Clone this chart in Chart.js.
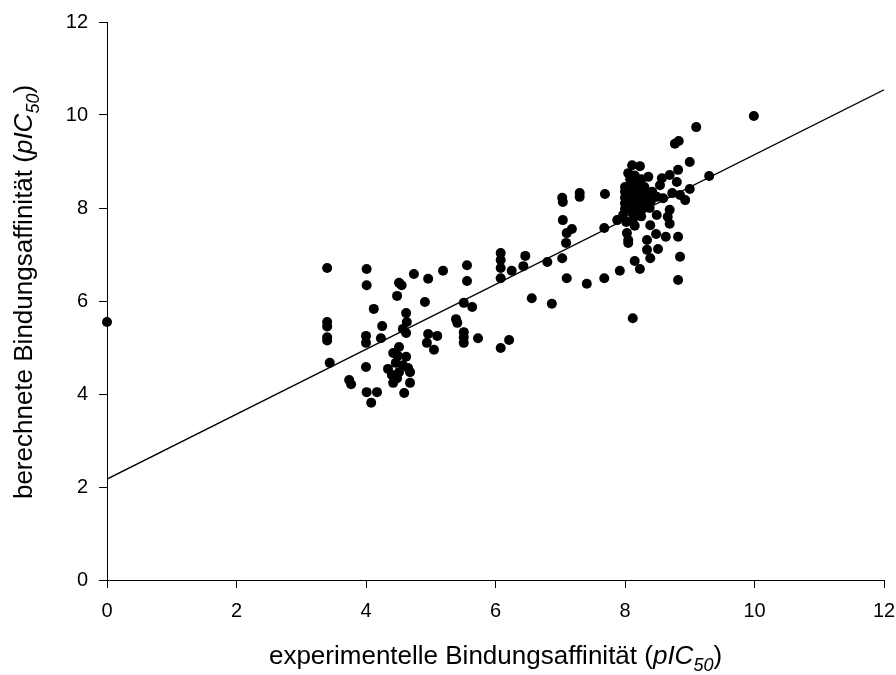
<!DOCTYPE html>
<html>
<head>
<meta charset="utf-8">
<script src="https://cdn.jsdelivr.net/npm/chart.js@4.4.1/dist/chart.umd.min.js"></script>
<style>
html,body{margin:0;padding:0;background:#fff;}
#wrap{width:896px;height:675px;}
</style>
</head>
<body>
<div id="wrap"><canvas id="c" width="896" height="675"></canvas></div>
<script>
const xTicks = [0, 2, 4, 6, 8, 10, 12];
const yTicks = [0, 2, 4, 6, 8, 10, 12];
const xTitleParts = [["experimentelle Bindungsaffinität (", 0], ["pIC", 1], ["50", 2], [")", 0]];
const yTitleParts = [["berechnete Bindungsaffinität (", 0], ["pIC", 1], ["50", 2], [")", 0]];

const expX = [
 0.00, 3.40, 3.40, 3.40, 3.40, 3.40, 3.44, 3.74, 3.77, 4.01,
 4.01, 4.12, 4.00, 4.00, 4.25, 4.23, 4.00, 4.01, 4.17, 4.08,
 4.51, 4.55, 4.48, 4.74, 4.96, 5.19, 5.56, 5.56, 4.91, 4.62,
 4.63, 4.57, 4.62, 4.96, 5.10, 4.94, 5.05, 5.39, 5.41, 5.51,
 5.64, 5.51, 5.51, 5.51, 5.73, 4.51, 4.42, 4.49, 4.62, 4.46,
 4.57, 4.65, 4.34, 4.51, 4.40, 4.48, 4.68, 4.42, 4.68, 4.59,
 6.08, 6.08, 6.08, 6.08, 6.25, 6.46, 6.43, 6.80, 7.03, 7.09,
 7.10, 7.41, 7.68, 7.92, 6.56, 6.87, 8.12, 6.08, 6.21, 8.05,
 8.15, 8.23, 7.68, 8.39, 8.34, 8.34, 8.51, 8.48, 8.63, 8.82,
 8.85, 8.82, 8.69, 8.39, 8.03, 9.10, 8.77, 8.83, 9.00, 9.30,
 7.69, 8.82, 8.11, 8.23, 8.36, 8.57, 8.69, 8.54, 8.80, 9.00,
 8.93, 8.73, 8.85, 8.49, 8.59, 8.69, 8.66, 8.49, 9.99, 7.03,
 7.04, 7.30, 7.30, 7.04, 7.18, 7.10, 7.88, 8.05, 8.00, 8.00,
 8.00, 8.00, 8.00, 7.97, 8.02, 8.08, 8.08, 8.10, 8.08, 8.10,
 8.08, 8.12, 8.12, 8.15, 8.18, 8.20, 8.18, 8.22, 8.20, 8.22,
 8.25, 8.30, 8.28, 8.32, 8.30, 8.27, 8.25, 8.38, 8.40, 8.42,
 8.15, 8.05
];
const calcY = [
 5.55, 6.71, 5.55, 5.45, 5.22, 5.15, 4.67, 4.30, 4.21, 6.69,
 6.34, 5.83, 5.25, 5.10, 5.46, 5.20, 4.58, 4.04, 4.04, 3.81,
 6.39, 6.34, 6.11, 6.58, 6.48, 6.65, 6.77, 6.43, 5.98, 5.74,
 5.55, 5.40, 5.31, 5.29, 5.25, 5.10, 4.95, 5.61, 5.53, 5.96,
 5.87, 5.33, 5.22, 5.10, 5.20, 5.01, 4.88, 4.82, 4.80, 4.67,
 4.62, 4.56, 4.54, 4.47, 4.41, 4.34, 4.47, 4.24, 4.24, 4.02,
 7.03, 6.88, 6.71, 6.49, 6.65, 6.97, 6.75, 6.84, 6.92, 7.25,
 6.49, 6.37, 6.49, 6.65, 6.06, 5.94, 5.63, 4.99, 5.16, 7.25,
 6.86, 6.69, 7.57, 6.92, 7.10, 7.31, 7.12, 7.44, 7.38, 7.38,
 6.95, 6.45, 7.66, 7.63, 7.46, 9.74, 9.38, 9.44, 8.99, 8.69,
 8.30, 8.82, 8.92, 8.90, 8.67, 8.64, 8.71, 8.49, 8.56, 8.41,
 8.17, 8.32, 8.28, 8.24, 8.21, 7.96, 7.81, 7.85, 9.98, 8.22,
 8.13, 8.32, 8.24, 7.74, 7.55, 7.46, 7.74, 7.31, 8.45, 8.35,
 8.22, 8.10, 7.98, 7.85, 7.70, 8.62, 8.50, 8.38, 8.25, 8.12,
 8.00, 7.88, 7.75, 7.62, 8.55, 8.42, 8.30, 8.18, 8.05, 7.92,
 8.62, 8.45, 8.35, 8.22, 8.10, 7.98, 7.82, 8.00, 8.15, 8.35,
 8.70, 8.75
];
const fitX = [0, 12];
const fitY = [2.17, 10.54];

const points = expX.map((x, i) => ({x: x, y: calcY[i]}));
const fitLine = fitX.map((x, i) => ({x: x, y: fitY[i]}));

const FONT = "'Liberation Sans', Arial, sans-serif";

function drawRich(ctx, parts, size) {
  const segs = parts.map(([t, s]) => {
    const fs = s === 2 ? Math.round(size * 0.68) : size;
    const f = (s ? 'italic ' : '') + fs + 'px ' + FONT;
    ctx.font = f;
    return {t, s, f, w: ctx.measureText(t).width};
  });
  const total = segs.reduce((a, b) => a + b.w, 0);
  let x = -total / 2;
  segs.forEach(sg => {
    ctx.font = sg.f;
    ctx.fillText(sg.t, x, sg.s === 2 ? size * 0.25 : 0);
    x += sg.w;
  });
}

const titlePlugin = {
  id: 'richTitles',
  afterDraw(chart) {
    const ctx = chart.ctx;
    const a = chart.chartArea;
    ctx.save();
    ctx.fillStyle = '#000';
    ctx.textBaseline = 'alphabetic';
    ctx.textAlign = 'left';
    ctx.translate((a.left + a.right) / 2, 664);
    drawRich(ctx, xTitleParts, 26);
    ctx.restore();
    ctx.save();
    ctx.fillStyle = '#000';
    ctx.textBaseline = 'alphabetic';
    ctx.textAlign = 'left';
    ctx.translate(32, 292);
    ctx.rotate(-Math.PI / 2);
    drawRich(ctx, yTitleParts, 26);
    ctx.restore();
  }
};

new Chart(document.getElementById('c'), {
  type: 'scatter',
  data: {
    datasets: [
      {
        type: 'line',
        data: fitLine,
        borderColor: '#000',
        borderWidth: 1.3,
        pointRadius: 0,
        fill: false,
        tension: 0,
        order: 2
      },
      {
        data: points,
        backgroundColor: '#000',
        borderColor: '#000',
        borderWidth: 0,
        pointRadius: 5,
        pointHoverRadius: 5,
        clip: false,
        order: 1
      }
    ]
  },
  options: {
    responsive: false,
    animation: false,
    events: [],
    layout: {padding: {left: 0, right: 12, top: 22, bottom: 0}},
    plugins: {legend: {display: false}, tooltip: {enabled: false}},
    scales: {
      x: {
        type: 'linear',
        min: 0, max: 12,
        afterBuildTicks(s) { s.ticks = xTicks.map(v => ({value: v})); },
        afterFit(s) { s.height = 95; s.paddingLeft = 0; s.paddingRight = 0; },
        grid: {display: true, drawOnChartArea: false, drawTicks: true, tickLength: 8, color: '#000', lineWidth: 1},
        border: {display: true, color: '#000', width: 1},
        ticks: {color: '#000', font: {family: FONT, size: 20}, padding: 11, maxRotation: 0}
      },
      y: {
        type: 'linear',
        min: 0, max: 12,
        afterBuildTicks(s) { s.ticks = yTicks.map(v => ({value: v})); },
        afterFit(s) { s.width = 107; s.paddingTop = 0; s.paddingBottom = 0; },
        grid: {display: true, drawOnChartArea: false, drawTicks: true, tickLength: 8, color: '#000', lineWidth: 1},
        border: {display: true, color: '#000', width: 1},
        ticks: {color: '#000', font: {family: FONT, size: 20}, padding: 11}
      }
    }
  },
  plugins: [titlePlugin]
});
</script>
</body>
</html>
